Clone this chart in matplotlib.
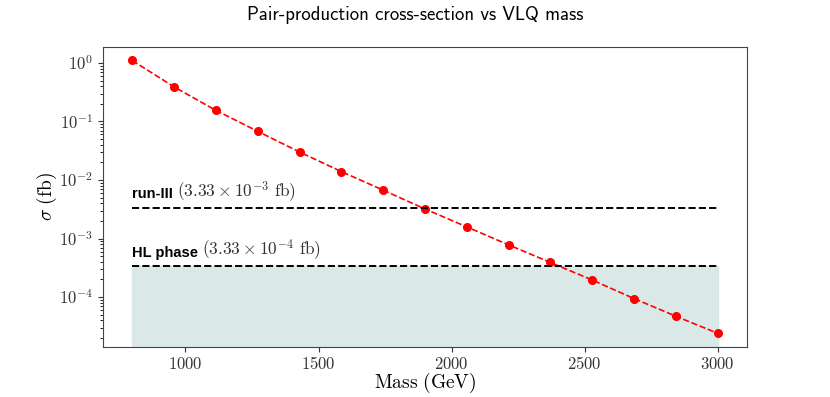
import numpy as np
import matplotlib
matplotlib.use("Agg")
import matplotlib.pyplot as plt
from matplotlib.ticker import FuncFormatter, LogLocator

plt.rcParams['mathtext.fontset'] = 'cm'

# VLQ masses (GeV) and pair-production cross-sections (fb)
mass = [800, 957, 1114, 1271, 1429, 1586, 1743, 1900, 2057, 2214, 2371, 2529, 2686, 2843, 3000]
xsec = [1.1, 0.39, 0.155, 0.068, 0.030, 0.0139, 0.0067, 0.0032, 0.00158,
        0.00078, 0.00039, 0.000195, 0.000094, 0.000047, 0.000024]

# sensitivity thresholds
run3_limit = 3.33e-3
hl_limit = 3.33e-4

fig = plt.figure(figsize=(8.3, 3.97), dpi=100)
ax = fig.add_axes([0.124, 0.126, 0.776, 0.756])

ax.plot(mass, xsec, color='red', linestyle='--', linewidth=1.2, marker='o', markersize=5.5)
ax.set_yscale('log')

# threshold lines
ax.hlines(run3_limit, mass[0], mass[-1], colors='black', linestyles='--', linewidth=1.4)
ax.hlines(hl_limit, mass[0], mass[-1], colors='black', linestyles='--', linewidth=1.4)

# shaded region below HL reach
ylo, yhi = ax.get_ylim()
ax.fill_between([mass[0], mass[-1]], ylo, hl_limit, color='#dae8e8', zorder=0)
ax.set_ylim(ylo, yhi)

# labels over the lines
for thr, name, expo in [(run3_limit, 'run-III', '-3'), (hl_limit, 'HL phase', '-4')]:
    t1 = ax.text(mass[0], thr * 1.45, name, fontsize=10.5, fontweight='bold',
                 family='Liberation Sans', va='baseline', ha='left')
    ax.annotate(r'$(3.33 \times 10^{%s}\ \mathrm{fb})$' % expo, xy=(1, 0), xycoords=t1,
                xytext=(3, -1.5), textcoords='offset points', fontsize=12.5, va='bottom',
                color='#333333')

ax.xaxis.set_major_formatter(FuncFormatter(lambda v, p: r'$%d$' % v))
ax.yaxis.set_major_locator(LogLocator(base=10))
ax.yaxis.set_major_formatter(FuncFormatter(lambda v, p: r'$10^{%d}$' % round(np.log10(v))))

ax.set_xlabel(r'$\mathrm{Mass\ (GeV)}$', fontsize=14, labelpad=-2)
ax.set_ylabel(r'$\sigma\ (\mathrm{fb})$', fontsize=14, labelpad=0)
fig.suptitle('Pair-production cross-section vs VLQ mass', family='cmss10', fontsize=13.5, y=0.985)

ax.tick_params(labelsize=12, colors='#333333', labelcolor='#333333')
ax.tick_params(axis='x', pad=2.5)
for s in ax.spines.values():
    s.set_color('#444444')

fig.savefig('out.png', dpi=100)
